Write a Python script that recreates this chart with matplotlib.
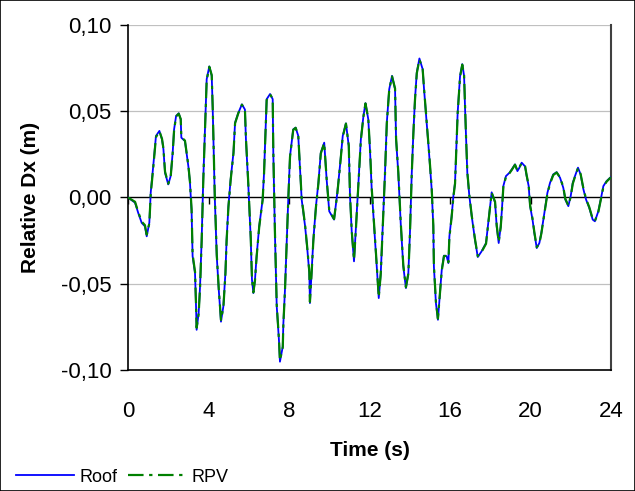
import matplotlib
matplotlib.use("Agg")
import matplotlib.pyplot as plt
from matplotlib.ticker import FuncFormatter

# values (time in s, relative displacement in m)
time = [0.00, 0.35, 0.51, 0.68, 0.84, 0.93, 1.06, 1.13, 1.26, 1.39, 1.56, 1.69, 1.76, 1.84,
        2.00, 2.12, 2.22, 2.29, 2.39, 2.52, 2.62, 2.65, 2.83, 2.92, 3.00, 3.08, 3.16, 3.21,
        3.33, 3.38, 3.41, 3.51, 3.58, 3.66, 3.74, 3.83, 3.91, 4.04, 4.16, 4.21, 4.31, 4.41,
        4.51, 4.62, 4.74, 4.84, 4.90, 4.99, 5.10, 5.24, 5.32, 5.48, 5.66, 5.81, 5.86, 5.98,
        6.10, 6.16, 6.23, 6.31, 6.39, 6.52, 6.69, 6.76, 6.82, 6.89, 7.06, 7.19, 7.22, 7.30,
        7.39, 7.50, 7.55, 7.69, 7.72, 7.80, 7.89, 7.97, 8.05, 8.21, 8.33, 8.46, 8.55, 8.63,
        8.80, 8.91, 9.01, 9.04, 9.13, 9.21, 9.34, 9.46, 9.58, 9.75, 9.87, 10.00, 10.24, 10.40,
        10.53, 10.67, 10.83, 10.97, 11.03, 11.12, 11.23, 11.33, 11.45, 11.57, 11.70, 11.80,
        11.94, 12.03, 12.11, 12.22, 12.36, 12.46, 12.56, 12.66, 12.77, 12.86, 12.98, 13.12,
        13.27, 13.32, 13.43, 13.55, 13.68, 13.81, 13.93, 14.01, 14.10, 14.18, 14.26, 14.35,
        14.48, 14.64, 14.71, 14.84, 14.97, 15.09, 15.17, 15.20, 15.30, 15.40, 15.50, 15.59,
        15.70, 15.83, 15.92, 15.97, 16.08, 16.17, 16.25, 16.30, 16.38, 16.50, 16.61, 16.70,
        16.75, 16.80, 16.86, 16.96, 17.08, 17.24, 17.38, 17.57, 17.79, 17.90, 17.99, 18.07,
        18.24, 18.32, 18.42, 18.52, 18.58, 18.65, 18.78, 18.95, 19.07, 19.23, 19.35, 19.45,
        19.56, 19.73, 19.81, 19.91, 19.98, 20.10, 20.19, 20.31, 20.44, 20.54, 20.64, 20.74,
        20.84, 20.97, 21.13, 21.30, 21.47, 21.63, 21.73, 21.88, 22.00, 22.10, 22.21, 22.36,
        22.49, 22.63, 22.76, 22.92, 23.09, 23.20, 23.37, 23.49, 23.62, 23.78, 23.95, 24.00]

roof = [0.0000, -0.0030, -0.0090, -0.0147, -0.0167, -0.0225, -0.0146, 0.0030, 0.0190, 0.0357,
        0.0386, 0.0337, 0.0280, 0.0143, 0.0076, 0.0124, 0.0260, 0.0395, 0.0473, 0.0488,
        0.0453, 0.0347, 0.0327, 0.0250, 0.0180, 0.0085, -0.0080, -0.0340, -0.0438, -0.0630,
        -0.0767, -0.0670, -0.0516, -0.0244, 0.0105, 0.0415, 0.0686, 0.0760, 0.0705, 0.0510,
        0.0010, -0.0340, -0.0535, -0.0720, -0.0630, -0.0438, -0.0244, -0.0050, 0.0105, 0.0260,
        0.0434, 0.0490, 0.0540, 0.0510, 0.0337, 0.0066, -0.0244, -0.0477, -0.0554, -0.0477,
        -0.0340, -0.0167, -0.0012, 0.0143, 0.0337, 0.0570, 0.0600, 0.0570, 0.0260, -0.0205,
        -0.0630, -0.0826, -0.0952, -0.0864, -0.0730, -0.0535, -0.0244, 0.0010, 0.0240, 0.0395,
        0.0405, 0.0357, 0.0163, -0.0012, -0.0167, -0.0300, -0.0438, -0.0612, -0.0419, -0.0244,
        -0.0050, 0.0085, 0.0260, 0.0318, 0.0105, -0.0080, -0.0128, 0.0027, 0.0180, 0.0357,
        0.0430, 0.0298, 0.0010, -0.0205, -0.0370, -0.0167, 0.0085, 0.0337, 0.0473, 0.0547,
        0.0453, 0.0260, 0.0047, -0.0147, -0.0400, -0.0583, -0.0438, -0.0167, 0.0143, 0.0434,
        0.0628, 0.0705, 0.0628, 0.0337, 0.0143, -0.0147, -0.0400, -0.0525, -0.0438, -0.0205,
        0.0143, 0.0376, 0.0570, 0.0725, 0.0806, 0.0744, 0.0628, 0.0434, 0.0240, 0.0047,
        -0.0167, -0.0400, -0.0612, -0.0709, -0.0554, -0.0419, -0.0337, -0.0340, -0.0380,
        -0.0225, -0.0109, 0.0010, 0.0085, 0.0240, 0.0490, 0.0705, 0.0773, 0.0705, 0.0510,
        0.0337, 0.0143, 0.0010, -0.0109, -0.0244, -0.0345, -0.0312, -0.0264, -0.0147, -0.0050,
        0.0030, -0.0030, -0.0167, -0.0264, -0.0167, -0.0070, 0.0066, 0.0124, 0.0143, 0.0163,
        0.0192, 0.0153, 0.0173, 0.0202, 0.0180, 0.0124, 0.0066, -0.0050, -0.0128, -0.0205,
        -0.0293, -0.0264, -0.0205, -0.0128, -0.0050, 0.0027, 0.0085, 0.0134, 0.0147, 0.0114,
        0.0056, -0.0012, -0.0050, 0.0010, 0.0085, 0.0124, 0.0173, 0.0134, 0.0047, -0.0012,
        -0.0060, -0.0128, -0.0138, -0.0080, -0.0012, 0.0066, 0.0095, 0.0114, 0.0118]

rpv = [0.0000, -0.0025, -0.0085, -0.0140, -0.0160, -0.0215, -0.0150, 0.0020, 0.0180, 0.0350,
       0.0384, 0.0340, 0.0285, 0.0150, 0.0080, 0.0120, 0.0255, 0.0390, 0.0470, 0.0486,
       0.0455, 0.0350, 0.0330, 0.0255, 0.0185, 0.0090, -0.0070, -0.0330, -0.0430, -0.0620,
       -0.0755, -0.0675, -0.0525, -0.0255, 0.0095, 0.0405, 0.0680, 0.0758, 0.0710, 0.0520,
       0.0020, -0.0330, -0.0530, -0.0710, -0.0635, -0.0445, -0.0250, -0.0055, 0.0100, 0.0255,
       0.0430, 0.0488, 0.0538, 0.0512, 0.0345, 0.0075, -0.0235, -0.0470, -0.0550, -0.0480,
       -0.0345, -0.0170, -0.0015, 0.0138, 0.0330, 0.0565, 0.0598, 0.0572, 0.0270, -0.0195,
       -0.0620, -0.0820, -0.0945, -0.0868, -0.0735, -0.0540, -0.0250, 0.0005, 0.0235, 0.0392,
       0.0404, 0.0360, 0.0170, -0.0005, -0.0160, -0.0295, -0.0432, -0.0605, -0.0425, -0.0250,
       -0.0055, 0.0080, 0.0255, 0.0316, 0.0110, -0.0075, -0.0125, 0.0022, 0.0175, 0.0352,
       0.0428, 0.0302, 0.0018, -0.0198, -0.0362, -0.0172, 0.0080, 0.0332, 0.0470, 0.0545,
       0.0456, 0.0268, 0.0055, -0.0140, -0.0392, -0.0578, -0.0442, -0.0172, 0.0138, 0.0430,
       0.0625, 0.0702, 0.0632, 0.0345, 0.0150, -0.0140, -0.0393, -0.0520, -0.0442, -0.0210,
       0.0138, 0.0372, 0.0565, 0.0720, 0.0800, 0.0746, 0.0632, 0.0440, 0.0247, 0.0055,
       -0.0160, -0.0392, -0.0605, -0.0702, -0.0560, -0.0425, -0.0340, -0.0338, -0.0375,
       -0.0230, -0.0115, 0.0005, 0.0080, 0.0235, 0.0485, 0.0700, 0.0770, 0.0708, 0.0515,
       0.0342, 0.0150, 0.0015, -0.0105, -0.0240, -0.0340, -0.0315, -0.0268, -0.0152, -0.0055,
       0.0028, -0.0025, -0.0160, -0.0258, -0.0172, -0.0075, 0.0060, 0.0120, 0.0140, 0.0160,
       0.0190, 0.0156, 0.0175, 0.0200, 0.0182, 0.0128, 0.0070, -0.0045, -0.0122, -0.0200,
       -0.0288, -0.0266, -0.0208, -0.0132, -0.0055, 0.0022, 0.0080, 0.0130, 0.0145, 0.0116,
       0.0060, -0.0008, -0.0046, 0.0005, 0.0080, 0.0120, 0.0170, 0.0136, 0.0052, -0.0008,
       -0.0056, -0.0124, -0.0136, -0.0084, -0.0016, 0.0060, 0.0092, 0.0112, 0.0116]

xticks = [0, 4, 8, 12, 16, 20, 24]
yticks = [-0.10, -0.05, 0.00, 0.05, 0.10]
gridvals = [-0.05, 0.05, 0.10]

plt.rcParams['font.family'] = ['Liberation Sans', 'DejaVu Sans']

fig = plt.figure(figsize=(6.35, 4.91), dpi=100)
ax = fig.add_axes([128/635, 1 - 370/491, (611 - 128)/635, (370 - 25)/491])

for g in gridvals:
    ax.axhline(g, color='#c0c0c0', lw=0.9, zorder=0)
ax.axhline(0, color='black', lw=1.0, zorder=1)
# small tick marks hanging below the zero line
ax.vlines(xticks, -0.004, 0, color='black', lw=1.0, zorder=1)

ax.plot(time, roof, color='#0000ff', lw=1.3, label='Roof', zorder=3)
ax.plot(time, rpv, color='#008000', lw=1.6, dashes=[7, 2.5, 1.5, 2.5], label='RPV', zorder=4)

ax.set_xlim(0, 24)
ax.set_ylim(-0.10, 0.10)
ax.set_xticks(xticks)
ax.set_yticks(yticks)
ax.yaxis.set_major_formatter(FuncFormatter(lambda v, p: f"{v:.2f}".replace('.', ',').replace('-0,00', '0,00')))
ax.tick_params(axis='y', direction='out', length=6, width=1, labelsize=16, pad=6)
ax.tick_params(axis='x', length=0, labelsize=16, pad=22)

ax.spines['top'].set_visible(False)
ax.spines['right'].set_color('#404040')
ax.spines['right'].set_linewidth(1.5)
ax.spines['left'].set_linewidth(1.2)
ax.spines['bottom'].set_linewidth(1.2)

ax.set_ylabel('Relative Dx (m)', fontsize=15, fontweight='bold', labelpad=15)
ax.set_xlabel('Time (s)', fontsize=15, fontweight='bold', labelpad=14)

fig.legend(loc='lower left', bbox_to_anchor=(0.0, -0.022), ncol=2, frameon=False,
           fontsize=13, handlelength=3.2, handletextpad=0.3, columnspacing=0.6)

border = plt.Rectangle((0, 0), 1, 1, transform=fig.transFigure, fill=False,
                       edgecolor='black', lw=1.2)
fig.patches.append(border)

fig.savefig('out.png', dpi=100)
